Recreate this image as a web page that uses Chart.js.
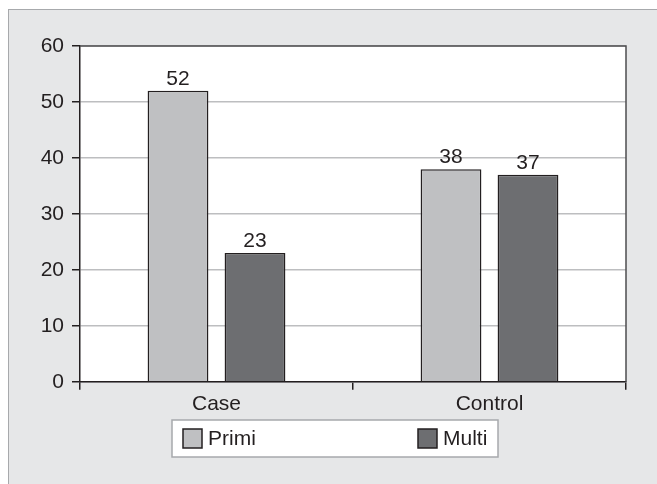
<!DOCTYPE html>
<html>
<head>
<meta charset="utf-8">
<script src="https://cdn.jsdelivr.net/npm/chart.js@4"></script>
<style>
  body { margin: 0; background: #fff; }
  #frame { position: absolute; left: 8px; top: 9px; width: 660px; height: 500px;
           background: #e6e7e8; border: 1.5px solid #a7a9ac; box-sizing: border-box; }
  #wrap { position: absolute; left: 0; top: 0; width: 657px; height: 484px; }
</style>
</head>
<body>
<div id="frame"></div>
<div id="wrap"><canvas id="chart"></canvas></div>
<script>
// chart data
const categories = ['Case', 'Control'];
const primiValues = [52, 38];
const multiValues = [23, 37];
const yTicks = [0, 10, 20, 30, 40, 50, 60];

const ink = '#231f20';
const fontFamily = '"Liberation Sans", Arial, sans-serif';
const fontSize = 21;

// white plot area + frame around it
const plotBg = {
  id: 'plotBg',
  beforeDraw(chart) {
    const { ctx, chartArea: a } = chart;
    ctx.save();
    ctx.fillStyle = '#fff';
    ctx.fillRect(a.left, a.top, a.right - a.left, a.bottom - a.top);
    ctx.restore();
  },
  afterDatasetsDraw(chart) {
    const { ctx, chartArea: a } = chart;
    ctx.save();
    ctx.strokeStyle = '#4d4d4f';
    ctx.lineWidth = 1.5;
    ctx.beginPath();
    ctx.moveTo(a.left, a.top);
    ctx.lineTo(a.right, a.top);
    ctx.lineTo(a.right, a.bottom);
    ctx.stroke();
    ctx.restore();
  }
};

// boxed legend under the x axis
const boxLegend = {
  id: 'boxLegend',
  afterDraw(chart) {
    const ctx = chart.ctx;
    const a = chart.chartArea;
    const x0 = a.left + 92, w = 326;
    const y0 = chart.scales.x.bottom + 1, h = 37;
    ctx.save();
    ctx.fillStyle = '#fff';
    ctx.fillRect(x0, y0, w, h);
    ctx.strokeStyle = '#a7a9ac';
    ctx.lineWidth = 1.5;
    ctx.strokeRect(x0, y0, w, h);
    ctx.font = fontSize + 'px ' + fontFamily;
    ctx.textBaseline = 'middle';
    ctx.textAlign = 'left';
    const offsets = [11, 246];
    chart.data.datasets.forEach((ds, i) => {
      const sx = x0 + offsets[i], sy = y0 + 9;
      ctx.fillStyle = ds.backgroundColor;
      ctx.fillRect(sx, sy, 19, 19);
      ctx.strokeStyle = ink;
      ctx.strokeRect(sx, sy, 19, 19);
      ctx.fillStyle = ink;
      ctx.fillText(ds.label, sx + 25, sy + 10);
    });
    ctx.restore();
  }
};

// value above each bar
const valueLabels = {
  id: 'valueLabels',
  afterDatasetsDraw(chart) {
    const ctx = chart.ctx;
    ctx.save();
    ctx.font = fontSize + 'px ' + fontFamily;
    ctx.fillStyle = ink;
    ctx.textAlign = 'center';
    ctx.textBaseline = 'alphabetic';
    chart.data.datasets.forEach((ds, i) => {
      chart.getDatasetMeta(i).data.forEach((bar, j) => {
        ctx.fillText(String(ds.data[j]), bar.x, bar.y - 6);
      });
    });
    ctx.restore();
  }
};

new Chart(document.getElementById('chart'), {
  type: 'bar',
  data: {
    labels: categories,
    datasets: [
      { label: 'Primi', data: primiValues, backgroundColor: '#bfc0c2', borderColor: ink, borderWidth: 1.5 },
      { label: 'Multi', data: multiValues, backgroundColor: '#6d6e71', borderColor: ink, borderWidth: 1.5 }
    ]
  },
  options: {
    responsive: true,
    maintainAspectRatio: false,
    animation: false,
    categoryPercentage: 0.564,
    barPercentage: 0.79,
    layout: { padding: { left: 18, right: 31, top: 46, bottom: 65 } },
    font: { family: fontFamily, size: fontSize },
    scales: {
      x: {
        grid: { offset: true, drawOnChartArea: false, tickLength: 8, color: ink, lineWidth: 1.5 },
        border: { color: ink, width: 1.5 },
        ticks: { color: ink, padding: 2, font: { size: fontSize } }
      },
      y: {
        min: 0, max: 60,
        afterFit(scale) { scale.width = 62; },
        afterBuildTicks(scale) { scale.ticks = yTicks.map(v => ({ value: v })); },
        grid: { color: '#bdbec0', lineWidth: 1.5, tickLength: 8, tickColor: ink },
        border: { color: ink, width: 1.5 },
        ticks: { color: ink, padding: 8, font: { size: fontSize } }
      }
    },
    plugins: {
      tooltip: { enabled: false },
      legend: { display: false }
    }
  },
  plugins: [plotBg, boxLegend, valueLabels]
});
</script>
</body>
</html>
